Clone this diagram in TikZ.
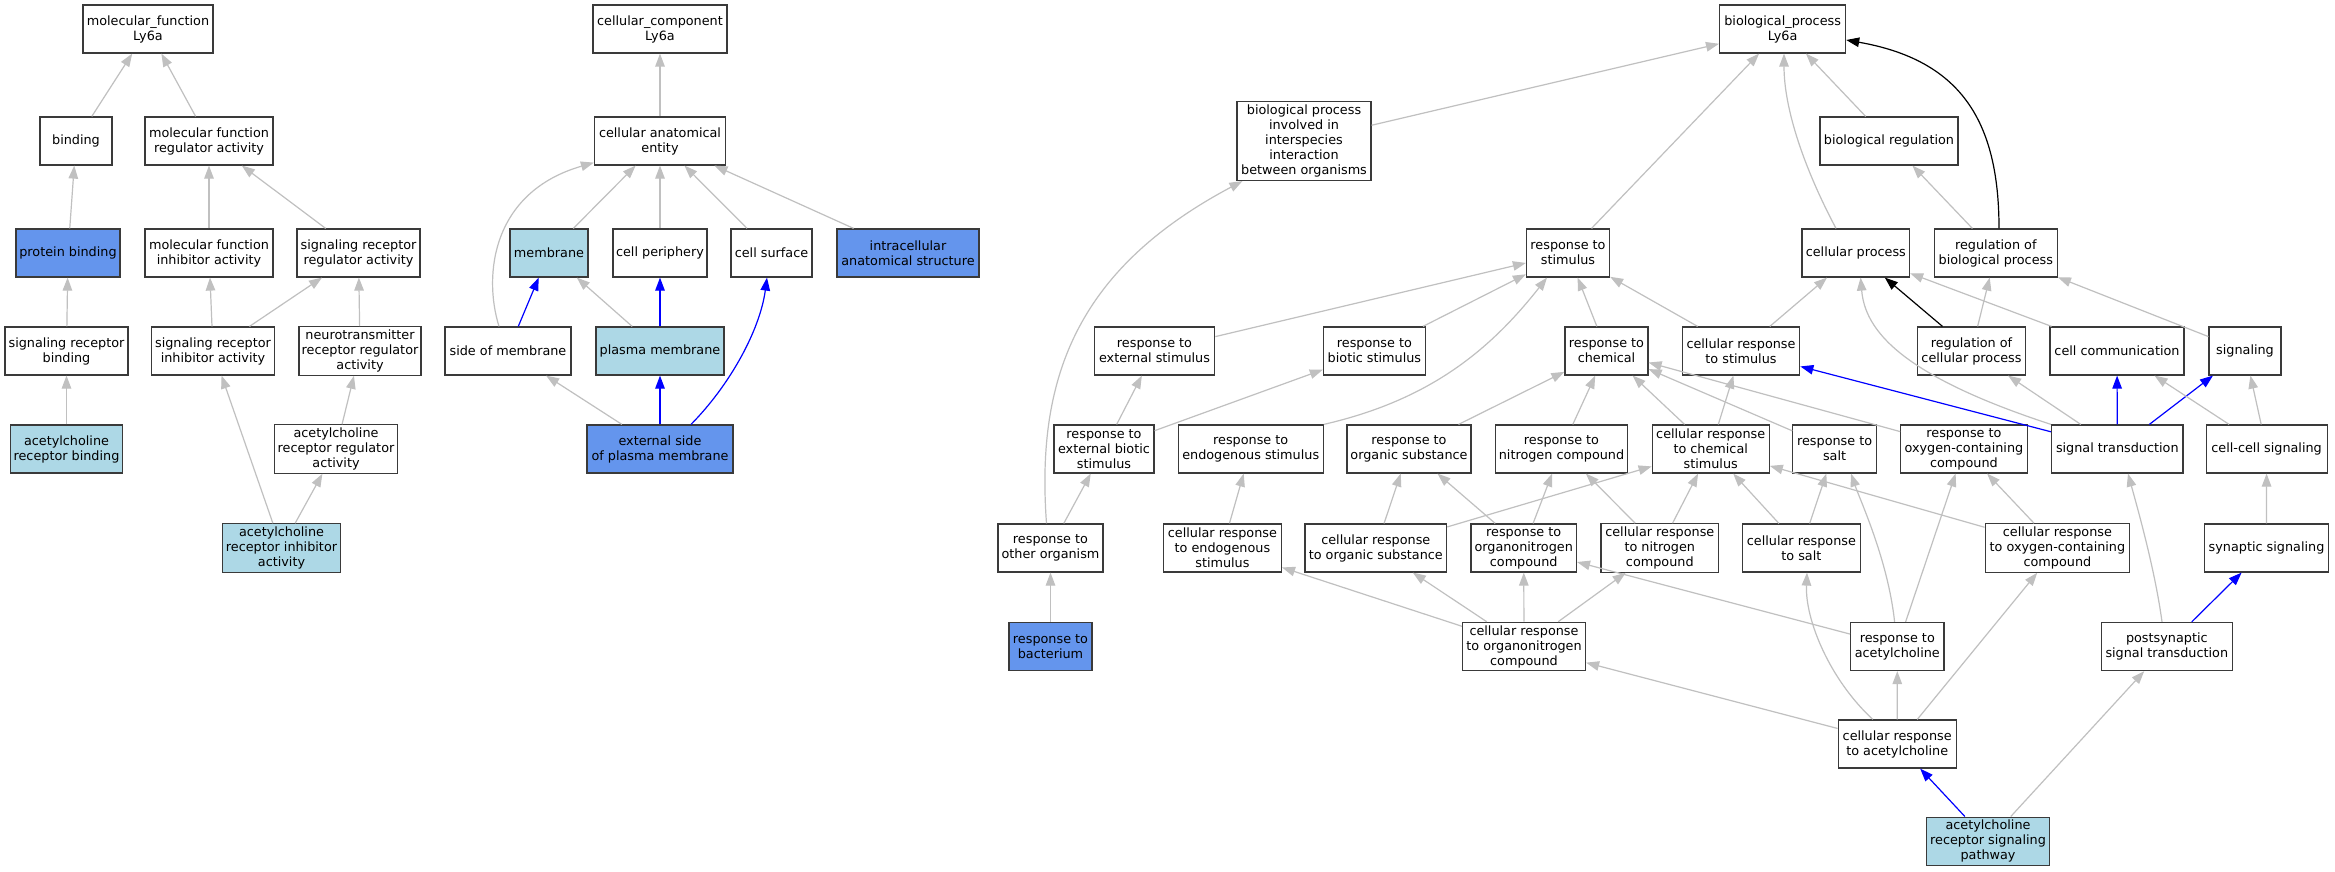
\documentclass[tikz,border=0pt]{standalone}
\usepackage{fontspec}
\newfontfamily\dvs{DejaVu Sans}
\usetikzlibrary{arrows.meta,calc}
\definecolor{lb}{HTML}{ADD8E6}
\definecolor{cb}{HTML}{6495ED}
\definecolor{eg}{HTML}{C0C0C0}
\definecolor{bd}{HTML}{3A3A3A}
\tikzset{
  box/.style={draw=bd, line width=1.2pt, fill=white, minimum height=48pt, inner xsep=2pt, inner ysep=3pt, align=center, font={\dvs\fontsize{12.8}{15}\selectfont}},
  lbox/.style={box, fill=lb},
  cbox/.style={box, fill=cb},
  tip/.style={-{Triangle[length=13pt,width=9.5pt]}},
  ge/.style={tip, draw=eg, line width=1.2pt},
  be/.style={tip, draw=blue, line width=1.2pt},
  ke/.style={tip, draw=black, line width=1.2pt},
}
\begin{document}
\begin{tikzpicture}[x=1pt,y=-1pt]
\fill[white] (0,0) rectangle (2335,872);
\useasboundingbox (0,0) rectangle (2335,872);
% ---------- molecular function ----------
\node[box, minimum width=130] (mf) at (148,29) {molecular\_function\\Ly6a};
\node[box, minimum width=72] (bind) at (76,141) {binding};
\node[box, minimum width=128] (mfra) at (209,141) {molecular function\\regulator activity};
\node[cbox, minimum width=104] (pb) at (68,253) {protein binding};
\node[box, minimum width=128] (mfia) at (209,253) {molecular function\\inhibitor activity};
\node[box, minimum width=123] (srra) at (358.5,253) {signaling receptor\\regulator activity};
\node[box, minimum width=123] (srb) at (66.5,351) {signaling receptor\\binding};
\node[box, minimum width=123] (sria) at (213,351) {signaling receptor\\inhibitor activity};
\node[box, minimum width=122] (nrra) at (360,351) {neurotransmitter\\receptor regulator\\activity};
\node[lbox, minimum width=112] (acrb) at (66.5,449) {acetylcholine\\receptor binding};
\node[box, minimum width=123] (acra) at (336,449) {acetylcholine\\receptor regulator\\activity};
\node[lbox, minimum width=118] (acia) at (281.5,548) {acetylcholine\\receptor inhibitor\\activity};
% ---------- cellular component ----------
\node[box, minimum width=134] (cc0) at (660,29) {cellular\_component\\Ly6a};
\node[box, minimum width=131] (cae) at (660,141) {cellular anatomical\\entity};
\node[lbox, minimum width=78] (mem) at (549,253) {membrane};
\node[box, minimum width=94] (cper) at (660,253) {cell periphery};
\node[box, minimum width=81] (csur) at (771.5,253) {cell surface};
\node[cbox, minimum width=142] (ias) at (908,253) {intracellular\\anatomical structure};
\node[box, minimum width=126] (som) at (508,351) {side of membrane};
\node[lbox, minimum width=128] (pm) at (660,351) {plasma membrane};
\node[cbox, minimum width=146] (esp) at (660,449) {external side\\of plasma membrane};
% ---------- biological process ----------
\node[box, minimum width=126] (bp) at (1782.6,29) {biological\_process\\Ly6a};
\node[box, minimum width=134, minimum height=79] (bpii) at (1304,141) {biological process\\involved in\\interspecies\\interaction\\between organisms};
\node[box, minimum width=138] (breg) at (1889,141) {biological regulation};
\node[box, minimum width=83] (rs) at (1568,253) {response to\\stimulus};
\node[box, minimum width=107.5] (cp) at (1855.8,253) {cellular process};
\node[box, minimum width=123] (rbp) at (1995.8,253) {regulation of\\biological process};
\node[box, minimum width=120.5] (res) at (1154.5,351) {response to\\external stimulus};
\node[box, minimum width=102] (rbs) at (1374.4,351) {response to\\biotic stimulus};
\node[box, minimum width=83] (rc) at (1606.5,351) {response to\\chemical};
\node[box, minimum width=117.5] (crs) at (1741,351) {cellular response\\to stimulus};
\node[box, minimum width=107.5] (rcp) at (1971.5,351) {regulation of\\cellular process};
\node[box, minimum width=134] (ccom) at (2117,351) {cell communication};
\node[box, minimum width=72] (sig) at (2245,351) {signaling};
\node[box, minimum width=100] (rebs) at (1104,449) {response to\\external biotic\\stimulus};
\node[box, minimum width=145] (rends) at (1250.7,449) {response to\\endogenous stimulus};
\node[box, minimum width=124] (ros) at (1409,449) {response to\\organic substance};
\node[box, minimum width=132] (rnc) at (1561.5,449) {response to\\nitrogen compound};
\node[box, minimum width=117] (crcs) at (1710.7,449) {cellular response\\to chemical\\stimulus};
\node[box, minimum width=83.5] (rsalt) at (1834.6,449) {response to\\salt};
\node[box, minimum width=126.4] (ro2) at (1963.9,449) {response to\\oxygen-containing\\compound};
\node[box, minimum width=131.5] (st) at (2117.3,449) {signal transduction};
\node[box, minimum width=121] (ccs) at (2266.6,449) {cell-cell signaling};
\node[box, minimum width=105] (rto) at (1050.5,548) {response to\\other organism};
\node[box, minimum width=118] (crends) at (1222.4,548) {cellular response\\to endogenous\\stimulus};
\node[box, minimum width=141.5] (cros) at (1375.8,548) {cellular response\\to organic substance};
\node[box, minimum width=105.4] (ron) at (1523.7,548) {response to\\organonitrogen\\compound};
\node[box, minimum width=117.6] (crnc) at (1659.8,548) {cellular response\\to nitrogen\\compound};
\node[box, minimum width=117.5] (crsalt) at (1801.4,548) {cellular response\\to salt};
\node[box, minimum width=144.6] (cro2) at (2057.4,548) {cellular response\\to oxygen-containing\\compound};
\node[box, minimum width=124] (ss) at (2266.5,548) {synaptic signaling};
\node[cbox, minimum width=83] (rbac) at (1050.5,646.5) {response to\\bacterium};
\node[box, minimum width=123] (cron) at (1524,646.5) {cellular response\\to organonitrogen\\compound};
\node[box, minimum width=93.5] (ra) at (1897.3,646.5) {response to\\acetylcholine};
\node[box, minimum width=131] (pst) at (2166.8,646.5) {postsynaptic\\signal transduction};
\node[box, minimum width=118] (cra) at (1897.2,744) {cellular response\\to acetylcholine};
\node[lbox, minimum width=123] (arsp) at (1988,841.3) {acetylcholine\\receptor signaling\\pathway};
% ---------- MF edges ----------
\draw[ge] (bind) -- (mf);
\draw[ge] (mfra) -- (mf);
\draw[ge] (pb) -- (bind);
\draw[ge] (mfia) -- (mfra);
\draw[ge] (srra) -- (mfra);
\draw[ge] (srb) -- (pb);
\draw[ge] (sria) -- (mfia);
\draw[ge] (sria) -- (srra);
\draw[ge] (nrra) -- (srra);
\draw[ge] (acrb) -- (srb);
\draw[ge] (acra) -- (nrra);
\draw[ge] (acia) -- (sria);
\draw[ge] (acia) -- (acra);
% ---------- CC edges ----------
\draw[ge] (cae) -- (cc0);
\draw[ge] (mem) -- (cae);
\draw[ge] (cper) -- (cae);
\draw[ge] (csur) -- (cae);
\draw[ge] (ias) -- (cae);
\draw[ge] ($(som.north)+(-9,0)$) .. controls (483,275) and (492,192) .. ($(cae.south west)+(0,-3)$);
\draw[be] (som) -- (mem);
\draw[ge] (pm) -- (mem);
\draw[be] (pm) -- (cper);
\draw[ge] (esp) -- (som);
\draw[be] (esp) -- (pm);
\draw[be] ($(esp.north)+(31,0)$) .. controls (730,385) and (760,330) .. ($(csur.south)+(-4.5,0)$);
% ---------- BP edges ----------
\draw[ge] (bpii) -- (bp);
\draw[ge] (rs) -- (bp);
\draw[ge] (breg) -- (bp);
\draw[ge] ($(cp.north)+(-19.8,0)$) .. controls (1805,170) and (1784,110) .. ($(bp.south)+(1.4,0)$);
\draw[ke] ($(rbp.north)+(3.2,0)$) .. controls (1999,120) and (1960,60) .. ($(bp.east)+(0,11)$);
\draw[ge] (rbp) -- (breg);
\draw[ge] ($(rto.north)+(-4,0)$) .. controls (1036,380) and (1075,270) .. ($(bpii.south west)+(6,0)$);
\draw[ge] (res) -- (rs);
\draw[ge] (rbs) -- (rs);
\draw[ge] (rc) -- (rs);
\draw[ge] (crs) -- (rs);
\draw[ge] (rends.north east) .. controls (1430,400) and (1490,350) .. ($(rs.south)+(-21,0)$);
\draw[ge] (rebs) -- (res);
\draw[ge] (rebs) -- (rbs);
\draw[ge] (rto) -- (rebs);
\draw[ge] (rbac) -- (rto);
\draw[ge] (crends) -- (rends);
\draw[ge] (ros) -- (rc);
\draw[ge] (rnc) -- (rc);
\draw[ge] (crcs) -- (rc);
\draw[ge] (crcs) -- (crs);
\draw[ge] (rsalt) -- (rc);
\draw[ge] (ro2) -- (rc);
\draw[ge] (crs) -- (cp);
\draw[ke] (rcp) -- (cp);
\draw[ge] (rcp) -- (rbp);
\draw[ge] (ccom) -- (cp);
\draw[ge] (sig) -- (rbp);
\draw[ge] (st.north west) .. controls (1900,375) and (1865,330) .. ($(cp.south)+(4.8,0)$);
\draw[ge] (st) -- (rcp);
\draw[be] (st) -- (crs);
\draw[be] (st) -- (ccom);
\draw[be] (st) -- (sig);
\draw[ge] (ccs) -- (ccom);
\draw[ge] (ccs) -- (sig);
\draw[ge] (ss) -- (ccs);
\draw[ge] ($(pst.north)+(-4.8,0)$) .. controls (2155,570) and (2138,510) .. ($(st.south)+(10.7,0)$);
\draw[be] (pst) -- (ss);
\draw[ge] (arsp) -- (pst);
\draw[be] (arsp) -- (cra);
\draw[ge] (cra) -- (ra);
\draw[ge] ($(cra.north)+(-24.4,0)$) .. controls (1830,680) and (1805,620) .. ($(crsalt.south)+(5.6,0)$);
\draw[ge] (cra) -- (cro2);
\draw[ge] (cra) -- (cron);
\draw[ge] ($(ra.north)+(-2.7,0)$) .. controls (1888,560) and (1860,500) .. ($(rsalt.south)+(16.4,0)$);
\draw[ge] (ra) -- (ro2);
\draw[ge] (ra) -- (ron);
\draw[ge] (crsalt) -- (rsalt);
\draw[ge] (crsalt) -- (crcs);
\draw[ge] (cro2) -- (ro2);
\draw[ge] (cro2) -- (crcs);
\draw[ge] (crnc) -- (rnc);
\draw[ge] (crnc) -- (crcs);
\draw[ge] (ron) -- (rnc);
\draw[ge] (ron) -- (ros);
\draw[ge] (cros) -- (ros);
\draw[ge] (cros) -- (crcs);
\draw[ge] (cron) -- (crends);
\draw[ge] (cron) -- (cros);
\draw[ge] (cron) -- (ron);
\draw[ge] (cron) -- (crnc);
\end{tikzpicture}
\end{document}
